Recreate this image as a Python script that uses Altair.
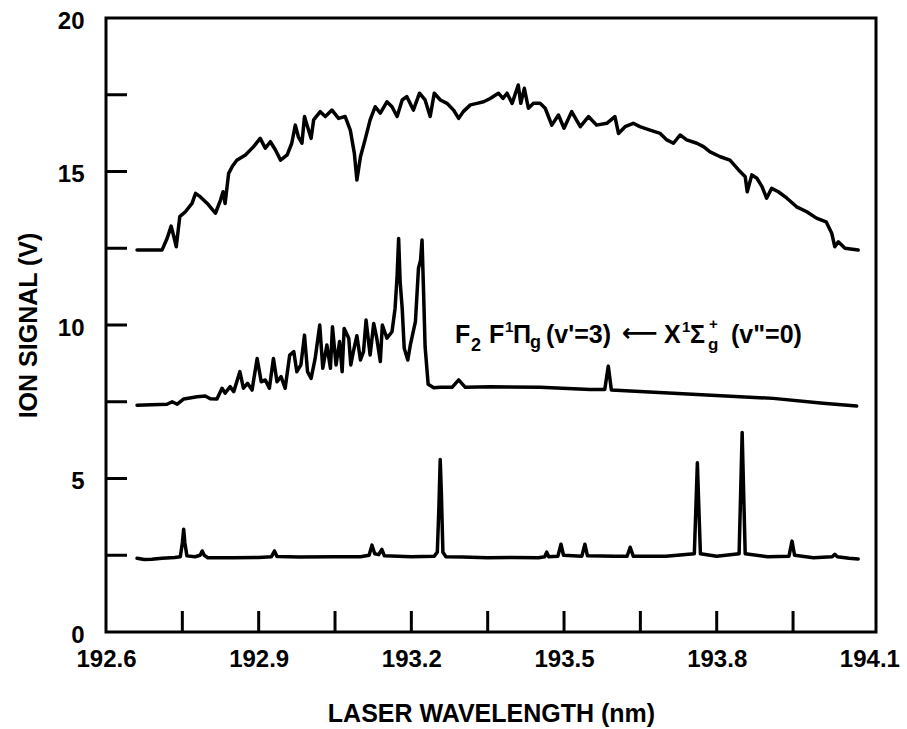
import altair as alt
import pandas as pd

# Ion signal spectra vs laser wavelength: three vertically offset traces
top_wl = [192.661, 192.710, 192.720, 192.728, 192.733, 192.738, 192.745, 192.756, 192.769, 192.776,
          192.785, 192.799, 192.815, 192.825, 192.830, 192.834, 192.841, 192.848, 192.857, 192.874,
          192.890, 192.903, 192.913, 192.923, 192.933, 192.943, 192.956, 192.965, 192.972, 192.978,
          192.985, 192.990, 192.996, 193.003, 193.008, 193.021, 193.031, 193.044, 193.057, 193.070,
          193.080, 193.088, 193.093, 193.100, 193.109, 193.119, 193.129, 193.139, 193.152, 193.162,
          193.172, 193.182, 193.191, 193.204, 193.216, 193.227, 193.237, 193.245, 193.257, 193.270,
          193.283, 193.293, 193.302, 193.316, 193.329, 193.342, 193.355, 193.371, 193.380, 193.388,
          193.398, 193.410, 193.415, 193.422, 193.430, 193.440, 193.453, 193.463, 193.476, 193.489,
          193.500, 193.515, 193.532, 193.548, 193.564, 193.584, 193.600, 193.607, 193.620, 193.636,
          193.649, 193.669, 193.689, 193.702, 193.715, 193.728, 193.741, 193.761, 193.774, 193.787,
          193.807, 193.826, 193.843, 193.856, 193.860, 193.869, 193.879, 193.889, 193.898, 193.908,
          193.921, 193.938, 193.957, 193.977, 193.996, 194.015, 194.026, 194.032, 194.039, 194.052,
          194.078]
top_v = [12.44, 12.44, 12.82, 13.22, 12.90, 12.55, 13.53, 13.69, 13.96, 14.29,
         14.18, 13.96, 13.64, 14.07, 14.34, 13.96, 14.94, 15.16, 15.37, 15.54,
         15.81, 16.08, 15.76, 15.97, 15.70, 15.37, 15.54, 15.92, 16.51, 16.13,
         15.92, 16.79, 16.46, 16.08, 16.68, 16.95, 16.79, 17.00, 16.73, 16.79,
         16.35, 15.59, 14.72, 15.48, 16.03, 16.68, 17.11, 16.90, 17.27, 17.11,
         16.79, 17.33, 17.44, 17.00, 17.55, 17.33, 16.79, 17.55, 17.33, 17.22,
         17.00, 16.73, 16.95, 17.17, 17.22, 17.27, 17.38, 17.55, 17.38, 17.55,
         17.22, 17.82, 17.22, 17.71, 17.06, 17.22, 17.22, 17.06, 16.51, 16.84,
         16.41, 16.95, 16.46, 16.79, 16.51, 16.57, 16.79, 16.24, 16.46, 16.57,
         16.46, 16.35, 16.24, 16.03, 15.92, 16.19, 16.03, 15.92, 15.81, 15.64,
         15.48, 15.37, 15.05, 14.83, 14.34, 14.89, 14.78, 14.51, 14.13, 14.45,
         14.34, 14.13, 13.85, 13.69, 13.48, 13.36, 12.99, 12.55, 12.71, 12.50,
         12.44]

mid_wl = [192.661, 192.690, 192.720, 192.730, 192.740, 192.753, 192.779, 192.795, 192.805, 192.818,
          192.828, 192.834, 192.844, 192.851, 192.863, 192.870, 192.878, 192.887, 192.897, 192.905,
          192.913, 192.921, 192.929, 192.936, 192.944, 192.952, 192.961, 192.969, 192.975, 192.983,
          192.990, 192.996, 193.003, 193.011, 193.020, 193.026, 193.034, 193.041, 193.045, 193.052,
          193.059, 193.064, 193.068, 193.077, 193.081, 193.086, 193.093, 193.100, 193.106, 193.111,
          193.119, 193.126, 193.132, 193.139, 193.143, 193.152, 193.162, 193.168, 193.172, 193.175,
          193.178, 193.182, 193.186, 193.193, 193.198, 193.208, 193.214, 193.218, 193.221, 193.224,
          193.227, 193.233, 193.244, 193.257, 193.280, 193.293, 193.306, 193.355, 193.453, 193.551,
          193.580, 193.587, 193.593, 193.649, 193.780, 193.911, 194.009, 194.075]
mid_v = [7.39, 7.40, 7.42, 7.50, 7.42, 7.59, 7.66, 7.69, 7.60, 7.59,
         7.94, 7.78, 7.99, 7.83, 8.48, 7.94, 8.10, 7.88, 8.91, 8.15,
         8.21, 7.94, 8.91, 8.15, 8.32, 7.94, 9.02, 9.13, 8.48, 8.70,
         9.67, 8.48, 8.26, 8.91, 10.00, 8.59, 9.35, 8.59, 9.94, 8.70,
         9.46, 8.48, 9.89, 9.57, 8.70, 9.13, 9.65, 8.86, 9.13, 10.16,
         9.02, 10.05, 9.57, 8.81, 10.00, 9.57, 9.78, 10.54, 11.60, 12.82,
         11.40, 10.54, 9.24, 8.86, 9.35, 10.11, 11.85, 12.10, 12.77, 11.08,
         9.30, 8.07, 7.96, 7.97, 7.97, 8.21, 7.97, 7.99, 7.97, 7.90,
         7.90, 8.66, 7.88, 7.83, 7.72, 7.61, 7.45, 7.36]

bot_wl = [192.661, 192.675, 192.690, 192.710, 192.735, 192.746, 192.750, 192.7526, 192.755, 192.759,
          192.775, 192.785, 192.789, 192.793, 192.800, 192.850, 192.900, 192.925, 192.931, 192.936,
          192.980, 193.050, 193.100, 193.117, 193.1226, 193.128, 193.136, 193.142, 193.147, 193.200,
          193.245, 193.251, 193.254, 193.2567, 193.259, 193.262, 193.268, 193.300, 193.350, 193.400,
          193.450, 193.462, 193.466, 193.470, 193.488, 193.494, 193.499, 193.535, 193.541, 193.546,
          193.600, 193.624, 193.630, 193.636, 193.700, 193.756, 193.759, 193.762, 193.765, 193.768,
          193.800, 193.844, 193.847, 193.850, 193.853, 193.856, 193.900, 193.942, 193.948, 193.953,
          193.990, 194.027, 194.032, 194.037, 194.060, 194.078]
bot_v = [2.40, 2.36, 2.37, 2.40, 2.43, 2.45, 2.90, 3.35, 2.90, 2.48,
         2.45, 2.50, 2.64, 2.50, 2.42, 2.42, 2.43, 2.45, 2.64, 2.46,
         2.44, 2.45, 2.45, 2.50, 2.83, 2.55, 2.52, 2.69, 2.48, 2.45,
         2.47, 2.60, 4.00, 5.62, 4.50, 2.60, 2.45, 2.44, 2.42, 2.43,
         2.42, 2.45, 2.60, 2.45, 2.47, 2.86, 2.50, 2.47, 2.86, 2.48,
         2.47, 2.47, 2.76, 2.47, 2.47, 2.55, 4.00, 5.51, 4.00, 2.55,
         2.47, 2.55, 4.50, 6.50, 4.50, 2.55, 2.45, 2.47, 2.96, 2.50,
         2.42, 2.45, 2.53, 2.45, 2.40, 2.38]

x_labels = [192.6, 192.9, 193.2, 193.5, 193.8, 194.1]
x_minor = [192.75, 192.9, 193.05, 193.2, 193.35, 193.5, 193.65, 193.8, 193.95]
y_labels = [0, 5, 10, 15, 20]
y_minor = [2.5, 5, 7.5, 10, 12.5, 15, 17.5]

W, H = 770, 614
FONT = "Liberation Sans"

traces = pd.concat([
    pd.DataFrame({"wl": top_wl, "v": top_v, "trace": "top"}),
    pd.DataFrame({"wl": mid_wl, "v": mid_v, "trace": "middle"}),
    pd.DataFrame({"wl": bot_wl, "v": bot_v, "trace": "bottom"}),
], ignore_index=True)
traces["i"] = range(len(traces))

xscale = alt.Scale(domain=[192.6, 194.113], nice=False, zero=False)
yscale = alt.Scale(domain=[0, 20], nice=False, zero=False)

xaxis = alt.Axis(
    values=x_labels, format=".1f", ticks=False, domain=False, grid=False,
    labelFlush=False, labelOverlap=False, labelBound=False,
    labelFontSize=24, labelFont=FONT, labelFontWeight="bold", labelColor="black",
    labelPadding=15,
    title="LASER WAVELENGTH (nm)", titleFontSize=25, titleFont=FONT,
    titleFontWeight="bold", titleColor="black",
    titleX=W / 2, titleY=89, titleBaseline="alphabetic", titleAlign="center")
yaxis = alt.Axis(
    values=y_labels, format="d", ticks=False, domain=False, grid=False,
    labelFlush=False, labelOverlap=False,
    labelFontSize=24, labelFont=FONT, labelFontWeight="bold", labelColor="black",
    labelPadding=22, labelOffset=3,
    title="ION SIGNAL (V)", titleFontSize=25, titleFont=FONT,
    titleFontWeight="bold", titleColor="black",
    titleX=-78, titleY=H / 2, titleAngle=-90, titleBaseline="middle", titleAlign="center")

lines = alt.Chart(traces).mark_line(
    color="black", strokeWidth=3.5, strokeJoin="round", strokeCap="round"
).encode(
    x=alt.X("wl:Q", scale=xscale, axis=xaxis),
    y=alt.Y("v:Q", scale=yscale, axis=yaxis),
    detail="trace:N",
    order="i:Q",
)

# inward tick marks along the left and bottom frame
yt = alt.Chart(pd.DataFrame({"v": y_minor})).mark_rule(color="black", strokeWidth=3).encode(
    y=alt.Y("v:Q", scale=yscale, axis=yaxis), x=alt.value(0), x2=alt.value(21))
xt = alt.Chart(pd.DataFrame({"wl": x_minor})).mark_rule(color="black", strokeWidth=3).encode(
    x=alt.X("wl:Q", scale=xscale, axis=xaxis), y=alt.value(H - 21), y2=alt.value(H))

# transition label, built from pieces for the sub/superscripts
label_parts = [
    ("F", 455, 343, 25, FONT), ("2", 471, 351, 18, FONT), ("F", 489, 343, 25, FONT),
    ("1", 505, 332, 15, FONT), ("Π", 513, 343, 25, FONT), ("g", 530, 348, 18, FONT),
    ("(v'=3)", 546, 343, 25, FONT), ("⟵", 622, 341, 25, "DejaVu Sans"),
    ("X", 664, 343, 25, FONT), ("1", 682, 332, 15, FONT), ("Σ", 690, 343, 25, FONT),
    ("+", 709, 329, 15, FONT), ("g", 708, 350, 17, FONT), ('(v"=0)', 731, 343, 25, FONT),
]
texts = [
    alt.Chart(pd.DataFrame({"t": [t]})).mark_text(
        align="left", baseline="alphabetic", font=fnt, fontWeight="bold",
        fontSize=fs, color="black"
    ).encode(x=alt.value(px - 106), y=alt.value(py - 18), text="t:N")
    for t, px, py, fs, fnt in label_parts
]

chart = alt.layer(lines, yt, xt, *texts).properties(
    width=W, height=H,
    autosize=alt.AutoSizeParams(type="none"),
    padding={"left": 106, "top": 18, "right": 31, "bottom": 97},
).configure_view(stroke="black", strokeWidth=3)

chart.save("out.html", embed_options={"renderer": "svg", "actions": False})
